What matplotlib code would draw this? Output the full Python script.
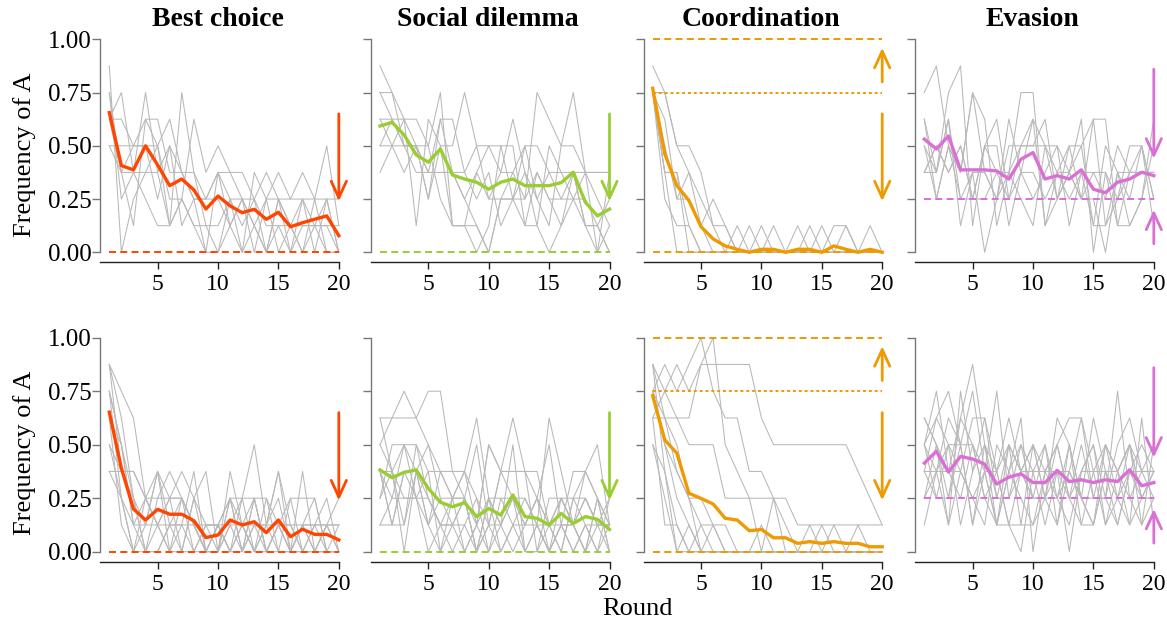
import matplotlib
matplotlib.use("Agg")
import matplotlib.pyplot as plt
from matplotlib.patches import ArrowStyle

plt.rcParams['font.family'] = ['Liberation Serif', 'DejaVu Serif']

rounds = list(range(1, 21))
titles = ["Best choice", "Social dilemma", "Coordination", "Evasion"]
colors = ["#FF4500", "#9ACD32", "#EE9A00", "#DA70D6"]
ytick_vals = [0.0, 0.25, 0.5, 0.75, 1.0]
ytick_labels = ["0.00", "0.25", "0.50", "0.75", "1.00"]
xtick_vals = [5, 10, 15, 20]

# ---- mean lines (row 0 = top, row 1 = bottom) ----
mean_best_top = [0.656, 0.407, 0.387, 0.50, 0.41, 0.313, 0.344, 0.293, 0.203, 0.264,
                 0.218, 0.186, 0.202, 0.155, 0.188, 0.12, 0.139, 0.155, 0.171, 0.078]
mean_social_top = [0.593, 0.610, 0.551, 0.457, 0.423, 0.485, 0.363, 0.344, 0.329, 0.296,
                   0.329, 0.344, 0.313, 0.313, 0.313, 0.327, 0.376, 0.235, 0.171, 0.203]
mean_coord_top = [0.770, 0.462, 0.313, 0.243, 0.12, 0.063, 0.03, 0.014, 0.0, 0.014,
                  0.014, 0.0, 0.014, 0.014, 0.0, 0.03, 0.014, 0.0, 0.014, 0.0]
mean_evasion_top = [0.531, 0.485, 0.546, 0.387, 0.387, 0.387, 0.382, 0.344, 0.437, 0.468,
                    0.344, 0.360, 0.344, 0.387, 0.296, 0.280, 0.329, 0.344, 0.376, 0.360]
mean_best_bot = [0.652, 0.39, 0.20, 0.148, 0.198, 0.175, 0.175, 0.145, 0.066, 0.078,
                 0.148, 0.125, 0.14, 0.089, 0.148, 0.07, 0.105, 0.081, 0.081, 0.055]
mean_social_bot = [0.382, 0.346, 0.371, 0.382, 0.296, 0.231, 0.21, 0.229, 0.164, 0.202,
                   0.171, 0.265, 0.164, 0.156, 0.125, 0.179, 0.132, 0.164, 0.151, 0.104]
mean_coord_bot = [0.729, 0.522, 0.46, 0.273, 0.249, 0.223, 0.156, 0.148, 0.098, 0.104,
                  0.065, 0.065, 0.039, 0.047, 0.039, 0.047, 0.039, 0.039, 0.023, 0.023]
mean_evasion_bot = [0.414, 0.469, 0.372, 0.445, 0.433, 0.409, 0.316, 0.348, 0.364, 0.323,
                    0.323, 0.380, 0.328, 0.336, 0.323, 0.336, 0.328, 0.383, 0.308, 0.323]

# ---- individual group lines ----
groups_best_top = [
    [0.875, 0.0, 0.25, 0.375, 0.5, 0.625, 0.375, 0.25, 0.0, 0.0, 0.125, 0.25, 0.125, 0.0, 0.25, 0.125, 0.0, 0.125, 0.25, 0.0],
    [0.75, 0.25, 0.375, 0.75, 0.375, 0.125, 0.25, 0.625, 0.375, 0.5, 0.375, 0.25, 0.125, 0.25, 0.0, 0.125, 0.25, 0.125, 0.125, 0.125],
    [0.5, 0.5, 0.5, 0.625, 0.625, 0.375, 0.375, 0.375, 0.25, 0.375, 0.375, 0.375, 0.25, 0.125, 0.125, 0.125, 0.125, 0.125, 0.125, 0.0],
    [0.625, 0.75, 0.375, 0.375, 0.375, 0.5, 0.125, 0.25, 0.25, 0.25, 0.125, 0.0, 0.375, 0.25, 0.375, 0.25, 0.375, 0.25, 0.5, 0.125],
    [0.75, 0.375, 0.375, 0.25, 0.125, 0.125, 0.75, 0.375, 0.125, 0.125, 0.25, 0.125, 0.25, 0.375, 0.25, 0.0, 0.25, 0.0, 0.25, 0.25],
    [0.5, 0.375, 0.5, 0.5, 0.5, 0.25, 0.25, 0.125, 0.0, 0.375, 0.25, 0.25, 0.0, 0.25, 0.25, 0.25, 0.25, 0.25, 0.25, 0.0],
    [0.625, 0.375, 0.125, 0.625, 0.5, 0.125, 0.25, 0.125, 0.125, 0.0, 0.25, 0.0, 0.125, 0.0, 0.25, 0.125, 0.0, 0.25, 0.0, 0.0],
    [0.625, 0.625, 0.5, 0.5, 0.25, 0.5, 0.375, 0.25, 0.25, 0.375, 0.125, 0.25, 0.25, 0.0, 0.125, 0.0, 0.125, 0.125, 0.0, 0.0],
]
groups_social_top = [
    [0.875, 0.75, 0.5, 0.5, 0.375, 0.625, 0.375, 0.25, 0.125, 0.0, 0.25, 0.375, 0.25, 0.75, 0.625, 0.5, 0.5, 0.375, 0.25, 0.125],
    [0.75, 0.75, 0.625, 0.625, 0.5, 0.75, 0.125, 0.125, 0.375, 0.5, 0.375, 0.625, 0.375, 0.25, 0.125, 0.5, 0.75, 0.375, 0.0, 0.125],
    [0.375, 0.5, 0.625, 0.125, 0.625, 0.5, 0.5, 0.75, 0.5, 0.5, 0.5, 0.25, 0.25, 0.375, 0.25, 0.125, 0.25, 0.375, 0.375, 0.375],
    [0.625, 0.5, 0.375, 0.5, 0.25, 0.625, 0.625, 0.375, 0.25, 0.375, 0.125, 0.25, 0.375, 0.125, 0.5, 0.375, 0.25, 0.125, 0.125, 0.0],
    [0.5, 0.625, 0.5, 0.375, 0.375, 0.375, 0.375, 0.375, 0.5, 0.25, 0.25, 0.25, 0.5, 0.5, 0.375, 0.25, 0.25, 0.25, 0.125, 0.25],
    [0.5, 0.5, 0.5, 0.5, 0.5, 0.25, 0.125, 0.125, 0.0, 0.125, 0.5, 0.5, 0.125, 0.375, 0.25, 0.25, 0.375, 0.125, 0.0, 0.375],
    [0.625, 0.625, 0.625, 0.5, 0.375, 0.375, 0.375, 0.25, 0.375, 0.25, 0.375, 0.375, 0.5, 0.25, 0.375, 0.375, 0.375, 0.375, 0.375, 0.375],
    [0.75, 0.625, 0.5, 0.5, 0.25, 0.5, 0.125, 0.125, 0.125, 0.0, 0.25, 0.25, 0.125, 0.125, 0.0, 0.125, 0.375, 0.125, 0.125, 0.0],
]
groups_coord_top = [
    [0.875, 0.75, 0.5, 0.375, 0.25, 0.125, 0.125, 0.0, 0.125, 0.0, 0.0, 0.0, 0.0, 0.0, 0.0, 0.125, 0.125, 0.0, 0.125, 0.0],
    [0.75, 0.75, 0.5, 0.5, 0.375, 0.125, 0.0, 0.125, 0.0, 0.125, 0.0, 0.0, 0.125, 0.0, 0.0, 0.0, 0.0, 0.0, 0.0, 0.0],
    [0.75, 0.625, 0.25, 0.375, 0.125, 0.25, 0.125, 0.0, 0.0, 0.0, 0.125, 0.0, 0.0, 0.125, 0.0, 0.0, 0.0, 0.0, 0.0, 0.0],
    [0.75, 0.375, 0.375, 0.125, 0.0, 0.0, 0.0, 0.0, 0.0, 0.0, 0.0, 0.0, 0.0, 0.0, 0.125, 0.0, 0.0, 0.0, 0.0, 0.0],
    [0.75, 0.25, 0.125, 0.125, 0.0, 0.0, 0.0, 0.0, 0.0, 0.0, 0.0, 0.0, 0.0, 0.0, 0.0, 0.0, 0.125, 0.0, 0.0, 0.0],
    [0.75, 0.375, 0.0, 0.0, 0.0, 0.0, 0.0, 0.0, 0.0, 0.0, 0.0, 0.0, 0.0, 0.0, 0.0, 0.0, 0.0, 0.0, 0.0, 0.0],
    [0.75, 0.5, 0.25, 0.25, 0.125, 0.0, 0.0, 0.0, 0.0, 0.0, 0.0, 0.0, 0.0, 0.0, 0.0, 0.0, 0.0, 0.0, 0.0, 0.0],
    [0.75, 0.375, 0.375, 0.0, 0.0, 0.0, 0.0, 0.0, 0.0, 0.0, 0.0, 0.0, 0.0, 0.0, 0.0, 0.0, 0.0, 0.0, 0.0, 0.0],
]
groups_evasion_top = [
    [0.75, 0.875, 0.5, 0.375, 0.75, 0.375, 0.25, 0.625, 0.375, 0.25, 0.375, 0.5, 0.125, 0.375, 0.125, 0.5, 0.375, 0.125, 0.25, 0.5],
    [0.5, 0.375, 0.75, 0.875, 0.125, 0.5, 0.375, 0.25, 0.5, 0.625, 0.5, 0.25, 0.5, 0.5, 0.625, 0.125, 0.25, 0.375, 0.375, 0.375],
    [0.375, 0.375, 0.625, 0.125, 0.375, 0.0, 0.25, 0.5, 0.5, 0.5, 0.5, 0.375, 0.375, 0.5, 0.125, 0.125, 0.375, 0.25, 0.5, 0.25],
    [0.625, 0.25, 0.5, 0.375, 0.75, 0.625, 0.125, 0.375, 0.75, 0.75, 0.125, 0.375, 0.5, 0.25, 0.625, 0.625, 0.125, 0.125, 0.25, 0.625],
    [0.375, 0.5, 0.375, 0.5, 0.25, 0.5, 0.625, 0.25, 0.375, 0.375, 0.25, 0.375, 0.25, 0.375, 0.375, 0.25, 0.5, 0.375, 0.375, 0.375],
    [0.625, 0.375, 0.625, 0.25, 0.375, 0.375, 0.25, 0.375, 0.5, 0.5, 0.625, 0.25, 0.375, 0.625, 0.0, 0.375, 0.25, 0.5, 0.5, 0.125],
    [0.5, 0.25, 0.5, 0.25, 0.25, 0.25, 0.375, 0.375, 0.25, 0.125, 0.5, 0.5, 0.375, 0.25, 0.25, 0.0, 0.375, 0.375, 0.5, 0.25],
    [0.375, 0.5, 0.375, 0.5, 0.25, 0.5, 0.5, 0.125, 0.375, 0.625, 0.125, 0.25, 0.375, 0.25, 0.375, 0.375, 0.125, 0.375, 0.375, 0.375],
]
groups_best_bot = [
    [0.875, 0.75, 0.625, 0.25, 0.125, 0.25, 0.375, 0.25, 0.125, 0.0, 0.125, 0.25, 0.5, 0.125, 0.25, 0.0, 0.125, 0.0, 0.125, 0.0],
    [0.875, 0.625, 0.25, 0.0, 0.25, 0.375, 0.25, 0.125, 0.0, 0.125, 0.25, 0.0, 0.125, 0.125, 0.375, 0.0, 0.125, 0.25, 0.0, 0.125],
    [0.75, 0.5, 0.25, 0.125, 0.375, 0.0, 0.125, 0.375, 0.0, 0.0, 0.375, 0.125, 0.25, 0.0, 0.125, 0.125, 0.0, 0.125, 0.25, 0.0],
    [0.75, 0.25, 0.125, 0.125, 0.125, 0.125, 0.125, 0.125, 0.125, 0.125, 0.125, 0.125, 0.125, 0.125, 0.125, 0.125, 0.125, 0.125, 0.125, 0.125],
    [0.5, 0.375, 0.375, 0.25, 0.25, 0.25, 0.25, 0.0, 0.0, 0.125, 0.0, 0.25, 0.25, 0.25, 0.0, 0.25, 0.25, 0.25, 0.0, 0.0],
    [0.375, 0.375, 0.375, 0.25, 0.375, 0.125, 0.0, 0.25, 0.375, 0.0, 0.25, 0.0, 0.125, 0.0, 0.125, 0.0, 0.375, 0.0, 0.125, 0.25],
    [0.625, 0.5, 0.125, 0.0, 0.125, 0.25, 0.25, 0.125, 0.0, 0.125, 0.25, 0.25, 0.0, 0.25, 0.125, 0.25, 0.0, 0.0, 0.0, 0.0],
    [0.5, 0.25, 0.0, 0.0, 0.0, 0.125, 0.125, 0.0, 0.125, 0.125, 0.0, 0.125, 0.0, 0.125, 0.375, 0.125, 0.0, 0.125, 0.125, 0.0],
    [0.75, 0.5, 0.125, 0.25, 0.125, 0.0, 0.25, 0.125, 0.0, 0.0, 0.125, 0.0, 0.25, 0.0, 0.125, 0.0, 0.125, 0.125, 0.0, 0.0],
    [0.625, 0.125, 0.0, 0.125, 0.375, 0.25, 0.0, 0.0, 0.125, 0.125, 0.0, 0.125, 0.0, 0.125, 0.0, 0.0, 0.125, 0.0, 0.0, 0.0],
    [0.875, 0.375, 0.25, 0.0, 0.0, 0.125, 0.25, 0.125, 0.0, 0.0, 0.25, 0.125, 0.0, 0.0, 0.125, 0.0, 0.0, 0.0, 0.0, 0.0],
    [0.375, 0.25, 0.0, 0.25, 0.125, 0.0, 0.0, 0.25, 0.0, 0.125, 0.0, 0.0, 0.25, 0.0, 0.0, 0.0, 0.0, 0.0, 0.125, 0.125],
]
groups_social_bot = [
    [0.5, 0.625, 0.75, 0.625, 0.75, 0.75, 0.375, 0.25, 0.125, 0.5, 0.375, 0.375, 0.375, 0.375, 0.125, 0.0, 0.25, 0.375, 0.5, 0.125],
    [0.625, 0.625, 0.625, 0.625, 0.5, 0.25, 0.25, 0.25, 0.5, 0.125, 0.375, 0.625, 0.375, 0.25, 0.5, 0.125, 0.375, 0.375, 0.25, 0.0],
    [0.375, 0.375, 0.125, 0.5, 0.375, 0.375, 0.25, 0.375, 0.625, 0.25, 0.25, 0.25, 0.25, 0.125, 0.625, 0.375, 0.125, 0.25, 0.125, 0.25],
    [0.25, 0.5, 0.5, 0.375, 0.5, 0.375, 0.375, 0.375, 0.125, 0.5, 0.375, 0.25, 0.125, 0.25, 0.125, 0.25, 0.25, 0.125, 0.125, 0.125],
    [0.375, 0.125, 0.375, 0.25, 0.125, 0.375, 0.25, 0.375, 0.25, 0.125, 0.375, 0.375, 0.375, 0.0, 0.25, 0.25, 0.125, 0.0, 0.25, 0.125],
    [0.5, 0.375, 0.0, 0.375, 0.25, 0.125, 0.0, 0.125, 0.0, 0.25, 0.125, 0.0, 0.125, 0.25, 0.0, 0.125, 0.0, 0.125, 0.0, 0.125],
    [0.125, 0.25, 0.5, 0.25, 0.375, 0.0, 0.25, 0.0, 0.125, 0.0, 0.25, 0.125, 0.0, 0.125, 0.0, 0.25, 0.125, 0.0, 0.125, 0.0],
    [0.375, 0.125, 0.125, 0.375, 0.125, 0.25, 0.125, 0.25, 0.0, 0.125, 0.0, 0.125, 0.25, 0.125, 0.125, 0.0, 0.25, 0.25, 0.125, 0.125],
    [0.25, 0.375, 0.25, 0.25, 0.0, 0.125, 0.125, 0.125, 0.25, 0.0, 0.125, 0.25, 0.0, 0.0, 0.125, 0.25, 0.125, 0.25, 0.125, 0.125],
    [0.625, 0.375, 0.5, 0.5, 0.25, 0.125, 0.25, 0.25, 0.0, 0.25, 0.125, 0.25, 0.125, 0.25, 0.125, 0.125, 0.125, 0.0, 0.25, 0.0],
    [0.125, 0.125, 0.375, 0.375, 0.125, 0.0, 0.125, 0.0, 0.125, 0.25, 0.0, 0.125, 0.125, 0.125, 0.0, 0.125, 0.0, 0.125, 0.0, 0.25],
    [0.375, 0.25, 0.25, 0.25, 0.25, 0.125, 0.125, 0.25, 0.0, 0.125, 0.125, 0.5, 0.0, 0.125, 0.0, 0.125, 0.125, 0.375, 0.25, 0.125],
]
groups_coord_bot = [
    [0.875, 0.75, 0.875, 0.75, 0.875, 0.875, 0.875, 0.875, 0.875, 0.625, 0.5, 0.5, 0.5, 0.5, 0.5, 0.5, 0.5, 0.375, 0.25, 0.125],
    [0.75, 0.875, 0.75, 0.875, 1.0, 0.75, 0.625, 0.625, 0.375, 0.375, 0.25, 0.25, 0.125, 0.125, 0.125, 0.125, 0.125, 0.125, 0.125, 0.125],
    [0.625, 0.75, 0.625, 0.625, 0.875, 1.0, 0.5, 0.375, 0.25, 0.0, 0.25, 0.0, 0.0, 0.125, 0.0, 0.0, 0.0, 0.0, 0.0, 0.0],
    [0.875, 0.625, 0.625, 0.5, 0.5, 0.5, 0.25, 0.25, 0.25, 0.25, 0.25, 0.125, 0.0, 0.0, 0.0, 0.125, 0.0, 0.125, 0.0, 0.0],
    [0.75, 0.625, 0.5, 0.25, 0.125, 0.125, 0.125, 0.0, 0.0, 0.125, 0.0, 0.0, 0.0, 0.0, 0.0, 0.0, 0.0, 0.0, 0.0, 0.0],
    [0.625, 0.625, 0.375, 0.25, 0.0, 0.125, 0.0, 0.0, 0.0, 0.0, 0.0, 0.0, 0.0, 0.0, 0.125, 0.0, 0.0, 0.0, 0.0, 0.0],
    [0.5, 0.375, 0.125, 0.0, 0.125, 0.0, 0.0, 0.0, 0.0, 0.0, 0.0, 0.0, 0.0, 0.0, 0.0, 0.0, 0.0, 0.0, 0.0, 0.0],
    [0.75, 0.5, 0.25, 0.125, 0.0, 0.0, 0.0, 0.0, 0.0, 0.0, 0.0, 0.0, 0.0, 0.0, 0.0, 0.0, 0.0, 0.0, 0.0, 0.0],
    [0.875, 0.375, 0.0, 0.0, 0.0, 0.0, 0.0, 0.0, 0.0, 0.0, 0.0, 0.0, 0.0, 0.0, 0.0, 0.0, 0.0, 0.0, 0.0, 0.0],
    [0.625, 0.125, 0.125, 0.0, 0.0, 0.0, 0.0, 0.0, 0.0, 0.0, 0.0, 0.0, 0.0, 0.0, 0.0, 0.0, 0.0, 0.0, 0.0, 0.0],
    [0.5, 0.25, 0.0, 0.125, 0.0, 0.0, 0.0, 0.0, 0.0, 0.0, 0.0, 0.0, 0.0, 0.0, 0.0, 0.0, 0.0, 0.0, 0.0, 0.0],
    [0.75, 0.5, 0.375, 0.25, 0.25, 0.125, 0.0, 0.0, 0.0, 0.0, 0.0, 0.0, 0.0, 0.0, 0.0, 0.0, 0.0, 0.0, 0.0, 0.0],
]
groups_evasion_bot = [
    [0.5, 0.75, 0.375, 0.625, 0.875, 0.5, 0.375, 0.125, 0.0, 0.375, 0.5, 0.25, 0.375, 0.625, 0.25, 0.5, 0.375, 0.5, 0.25, 0.375],
    [0.375, 0.625, 0.75, 0.5, 0.75, 0.375, 0.75, 0.25, 0.5, 0.375, 0.125, 0.375, 0.0, 0.375, 0.5, 0.25, 0.75, 0.25, 0.375, 0.5],
    [0.625, 0.5, 0.125, 0.75, 0.375, 0.625, 0.375, 0.125, 0.125, 0.125, 0.25, 0.625, 0.5, 0.125, 0.125, 0.5, 0.25, 0.5, 0.375, 0.375],
    [0.25, 0.375, 0.375, 0.375, 0.25, 0.375, 0.125, 0.375, 0.625, 0.0, 0.375, 0.5, 0.625, 0.625, 0.375, 0.375, 0.375, 0.125, 0.625, 0.125],
    [0.5, 0.625, 0.5, 0.375, 0.625, 0.625, 0.25, 0.25, 0.375, 0.5, 0.25, 0.5, 0.25, 0.375, 0.375, 0.125, 0.25, 0.375, 0.25, 0.25],
    [0.125, 0.375, 0.625, 0.5, 0.5, 0.25, 0.125, 0.375, 0.5, 0.25, 0.5, 0.125, 0.375, 0.25, 0.625, 0.375, 0.375, 0.5, 0.125, 0.25],
    [0.375, 0.25, 0.25, 0.5, 0.125, 0.5, 0.25, 0.5, 0.125, 0.5, 0.375, 0.375, 0.25, 0.5, 0.25, 0.25, 0.5, 0.625, 0.375, 0.375],
    [0.625, 0.5, 0.25, 0.625, 0.5, 0.25, 0.375, 0.5, 0.375, 0.25, 0.25, 0.25, 0.5, 0.25, 0.125, 0.375, 0.125, 0.375, 0.375, 0.25],
    [0.5, 0.375, 0.5, 0.125, 0.375, 0.5, 0.125, 0.125, 0.375, 0.375, 0.375, 0.5, 0.25, 0.125, 0.375, 0.5, 0.375, 0.25, 0.125, 0.5],
    [0.25, 0.5, 0.375, 0.25, 0.5, 0.375, 0.125, 0.5, 0.375, 0.5, 0.25, 0.375, 0.375, 0.25, 0.25, 0.25, 0.125, 0.375, 0.5, 0.375],
    [0.375, 0.375, 0.125, 0.375, 0.25, 0.125, 0.5, 0.375, 0.25, 0.125, 0.375, 0.25, 0.125, 0.375, 0.5, 0.125, 0.375, 0.5, 0.25, 0.25],
    [0.5, 0.25, 0.5, 0.5, 0.125, 0.375, 0.375, 0.625, 0.375, 0.25, 0.25, 0.125, 0.5, 0.25, 0.125, 0.375, 0.25, 0.125, 0.25, 0.375],
]

means = [[mean_best_top, mean_social_top, mean_coord_top, mean_evasion_top],
         [mean_best_bot, mean_social_bot, mean_coord_bot, mean_evasion_bot]]
groups = [[groups_best_top, groups_social_top, groups_coord_top, groups_evasion_top],
          [groups_best_bot, groups_social_bot, groups_coord_bot, groups_evasion_bot]]

# reference lines per game: (y, style)
ref_lines = [[(0.0, 'dash')], [(0.0, 'dash')],
             [(0.0, 'dash'), (1.0, 'dash'), (0.75, 'dot')],
             [(0.25, 'dash')]]
# arrows per game: (y_start, y_end)
arrows = [[(0.65, 0.24)], [(0.65, 0.24)],
          [(0.80, 0.96), (0.65, 0.24)],
          [(0.86, 0.44), (0.04, 0.20)]]

W, H = 1167, 624
fig = plt.figure(figsize=(W / 100, H / 100), dpi=100)

r1_px = [109.3, 380.0, 652.7, 924.3]
px_per_round = 12.08
XL, XR = 0.25, 20.8
row_y0 = [252.3, 551.7]
row_scale = [213.0, 214.0]
YB, YT = -0.047, 1.03

def fx(px):
    return px / W

def fy(py):
    return 1 - py / H

for row in range(2):
    for col in range(4):
        left = r1_px[col] - (1 - XL) * px_per_round
        width = (XR - XL) * px_per_round
        bottom = row_y0[row] - YB * row_scale[row]
        top = row_y0[row] - YT * row_scale[row]
        ax = fig.add_axes([fx(left), fy(bottom), width / W, (bottom - top) / H])
        ax.set_xlim(XL, XR)
        ax.set_ylim(YB, YT)
        ax.patch.set_alpha(0)
        for s in ['top', 'right']:
            ax.spines[s].set_visible(False)
        ax.spines['left'].set_bounds(0, 1)
        ax.spines['bottom'].set_bounds(XL, 20)
        ax.spines['left'].set_color('#777777')
        ax.spines['bottom'].set_color('#222222')
        ax.spines['left'].set_linewidth(1.0)
        ax.spines['bottom'].set_linewidth(1.0)
        ax.set_yticks(ytick_vals)
        ax.set_xticks(xtick_vals)
        ax.tick_params(axis='y', length=5.5, width=1.0, color='#777777', pad=0.5,
                       labelsize=18)
        ax.tick_params(axis='x', length=5, width=1.0, color='#222222', pad=3.5,
                       labelsize=17)
        if col == 0:
            ax.set_yticklabels(ytick_labels)
        else:
            ax.set_yticklabels([])
        c = colors[col]
        for g in groups[row][col]:
            ax.plot(rounds, g, color='#B8B8B8', lw=0.75, zorder=2, clip_on=False)
        for yv, st in ref_lines[col]:
            if st == 'dash':
                ax.plot([1, 20], [yv, yv], color=c, lw=1.4, dashes=(3.6, 2.2),
                        zorder=3, clip_on=False)
            else:
                ax.plot([1, 20], [yv, yv], color=c, lw=1.4, dashes=(1.5, 1.5),
                        zorder=3, clip_on=False)
        ax.plot(rounds, means[row][col], color=c, lw=2.4, zorder=4,
                solid_joinstyle='round', clip_on=False)
        for ys, ye in arrows[col]:
            ax.annotate('', xy=(20, ye), xytext=(20, ys),
                        arrowprops=dict(arrowstyle=ArrowStyle('->', head_length=12, head_width=5.5),
                                        mutation_scale=1, color=c, lw=2.0,
                                        shrinkA=0, shrinkB=0),
                        annotation_clip=False, zorder=5)
        if row == 0:
            tx = r1_px[col] + 9.5 * px_per_round - 6.5
            fig.text(fx(tx), fy(19), titles[col], ha='center', va='center',
                     fontsize=20, fontweight='bold')

for py in [155, 453]:
    fig.text(fx(25), fy(py), "Frequency of A", rotation=90, ha='center',
             va='center', fontsize=19)

fig.text(fx(637), fy(609), "Round", ha='center', va='center', fontsize=19)

fig.savefig("out.png", dpi=100)
